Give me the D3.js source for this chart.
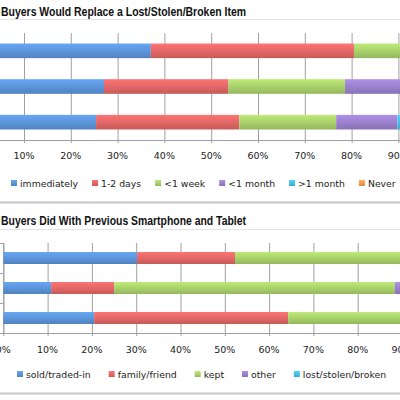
<!DOCTYPE html>
<html>
<head>
<meta charset="utf-8">
<script src="https://cdn.jsdelivr.net/npm/d3@7"></script>
<style>
  body { margin: 0; background: #fff; }
  svg { display: block; }
</style>
</head>
<body>
<div id="chart"></div>
<script>
// ---- data: how soon buyers would replace a lost/stolen/broken item ----
const replaceRows = ["row 1", "row 2", "row 3"];
const replaceKeys = ["immediately", "1-2 days", "<1 week", "<1 month", ">1 month", "Never"];
const replaceImmediately = [37.1, 27.1, 25.4];
const replaceDays = [43.4, 26.6, 30.6];
const replaceWeek = [15.0, 24.9, 20.7];
const replaceMonth = [3.0, 14.0, 13.1];
const replaceOverMonth = [1.0, 5.0, 5.2];
const replaceNever = [0.5, 2.4, 5.0];

// ---- data: what buyers did with previous smartphone and tablet ----
const previousRows = ["row 1", "row 2", "row 3"];
const previousKeys = ["sold/traded-in", "family/friend", "kept", "other", "lost/stolen/broken"];
const previousSold = [30.2, 10.8, 20.5];
const previousFamily = [22.1, 14.2, 43.8];
const previousKept = [45.0, 63.4, 33.0];
const previousOther = [2.0, 7.0, 2.3];
const previousLost = [0.7, 4.6, 0.4];

const xTicks = [0, 10, 20, 30, 40, 50, 60, 70, 80, 90, 100];
const xTickLabels = ["0%", "10%", "20%", "30%", "40%", "50%", "60%", "70%", "80%", "90%", "100%"];

const colors = ["#5B93D8", "#E06666", "#A8CF6A", "#9A80CC", "#46BCE6", "#F59A4E"];

const width = 400, height = 400;

const svg = d3
  .select("#chart")
  .append("svg")
  .attr("width", width)
  .attr("height", height);

// bar gradients (lighter on top like the original)
const defs = svg.append("defs");
colors.forEach((c, i) => {
  const g = defs
    .append("linearGradient")
    .attr("id", "grad" + i)
    .attr("x1", 0).attr("y1", 0).attr("x2", 0).attr("y2", 1);
  g.append("stop").attr("offset", "0%").attr("stop-color", d3.color(c).brighter(0.35));
  g.append("stop").attr("offset", "55%").attr("stop-color", c);
  g.append("stop").attr("offset", "100%").attr("stop-color", d3.color(c).darker(0.35));
});

// panel frame lines
svg.append("line").attr("x1", 0).attr("x2", width).attr("y1", 202.5).attr("y2", 202.5)
  .attr("stroke", "#c8c8c8").attr("stroke-width", 2);
svg.append("line").attr("x1", 0).attr("x2", width).attr("y1", 393.5).attr("y2", 393.5)
  .attr("stroke", "#c8c8c8").attr("stroke-width", 2);

const drawPanel = (cfg) => {
  const g = svg.append("g");

  // title
  g.append("text")
    .attr("x", 1)
    .attr("y", cfg.titleY)
    .attr("textLength", 245)
    .attr("lengthAdjust", "spacingAndGlyphs")
    .style("font-family", "'Liberation Sans', Arial, sans-serif")
    .style("font-weight", "bold")
    .style("font-size", "12.5px")
    .style("fill", "#111")
    .text(cfg.title);
  g.append("line")
    .attr("x1", 0).attr("x2", width)
    .attr("y1", cfg.titleRuleY).attr("y2", cfg.titleRuleY)
    .attr("stroke", "#e4e4e4");

  const x = d3.scaleLinear().domain([0, 100]).range(cfg.xRange);
  const y = d3
    .scaleBand()
    .domain(cfg.rows)
    .range([cfg.plotTop, cfg.plotBottom])
    .paddingInner(cfg.pad)
    .paddingOuter(cfg.pad / 2);

  // gridlines
  g.append("g")
    .selectAll("line")
    .data(xTicks)
    .join("line")
    .attr("x1", (d) => x(d) + 0.5)
    .attr("x2", (d) => x(d) + 0.5)
    .attr("y1", cfg.plotTop)
    .attr("y2", cfg.plotBottom + 3)
    .attr("stroke", "#a0a0a0");

  // left axis with category separators
  g.append("line")
    .attr("x1", x(0) + 0.5).attr("x2", x(0) + 0.5)
    .attr("y1", cfg.plotTop).attr("y2", cfg.plotBottom)
    .attr("stroke", "#a0a0a0");
  g.append("g")
    .selectAll("line")
    .data(cfg.rows.concat(["end"]))
    .join("line")
    .attr("x1", x(0) - 4)
    .attr("x2", x(0))
    .attr("y1", (d, i) => cfg.plotTop + i * y.step() + 0.5)
    .attr("y2", (d, i) => cfg.plotTop + i * y.step() + 0.5)
    .attr("stroke", "#a0a0a0");

  // bottom axis line
  g.append("line")
    .attr("x1", x(0)).attr("x2", width)
    .attr("y1", cfg.plotBottom + 0.5).attr("y2", cfg.plotBottom + 0.5)
    .attr("stroke", "#a0a0a0");

  // stacked bars
  const table = cfg.rows.map((r, i) => {
    const o = { row: r };
    cfg.keys.forEach((k, j) => (o[k] = cfg.series[j][i]));
    return o;
  });
  const stacked = d3.stack().keys(cfg.keys)(table);

  g.append("g")
    .selectAll("g")
    .data(stacked)
    .join("g")
    .attr("fill", (d, i) => "url(#grad" + i + ")")
    .selectAll("rect")
    .data((d) => d)
    .join("rect")
    .attr("x", (d) => x(d[0]))
    .attr("width", (d) => x(d[1]) - x(d[0]))
    .attr("y", (d) => y(d.data.row))
    .attr("height", y.bandwidth());

  // tick labels (only those that fall inside the visible crop)
  const shown = xTicks
    .map((d, i) => ({ v: d, label: xTickLabels[i] }))
    .filter((d) => x(d.v) > -8 && x(d.v) < width + 8);
  g.append("g")
    .selectAll("text")
    .data(shown)
    .join("text")
    .attr("x", (d) => x(d.v))
    .attr("y", cfg.tickLabelY)
    .attr("text-anchor", "middle")
    .style("font-family", "'DejaVu Sans', sans-serif")
    .style("font-size", "9.5px")
    .style("fill", "#222")
    .text((d) => d.label);

  // legend
  const legend = g.append("g");
  let lx = cfg.legendX;
  cfg.keys.forEach((k, i) => {
    legend.append("rect")
      .attr("x", lx)
      .attr("y", cfg.legendY - 3)
      .attr("width", 6)
      .attr("height", 6)
      .attr("fill", "url(#grad" + i + ")");
    const t = legend.append("text")
      .attr("x", lx + 9)
      .attr("y", cfg.legendY + 3.5)
      .style("font-family", "'DejaVu Sans', sans-serif")
      .style("font-size", "9.3px")
      .style("fill", "#222")
      .text(k);
    lx += 9 + t.node().getComputedTextLength() + cfg.legendGap;
  });
};

drawPanel({
  title: "Buyers Would Replace a Lost/Stolen/Broken Item",
  titleY: 15.5,
  titleRuleY: 19.5,
  rows: replaceRows,
  keys: replaceKeys,
  series: [replaceImmediately, replaceDays, replaceWeek, replaceMonth, replaceOverMonth, replaceNever],
  xRange: [-22.8, 445.2],
  plotTop: 33,
  plotBottom: 140,
  pad: 0.59,
  tickLabelY: 158.5,
  legendX: 11,
  legendY: 183,
  legendGap: 14,
});

drawPanel({
  title: "Buyers Did With Previous Smartphone and Tablet",
  titleY: 224.5,
  titleRuleY: 229.5,
  rows: previousRows,
  keys: previousKeys,
  series: [previousSold, previousFamily, previousKept, previousOther, previousLost],
  xRange: [3.3, 446.3],
  plotTop: 243,
  plotBottom: 333,
  pad: 0.6,
  tickLabelY: 352.5,
  legendX: 17,
  legendY: 374,
  legendGap: 18,
});
</script>
</body>
</html>
